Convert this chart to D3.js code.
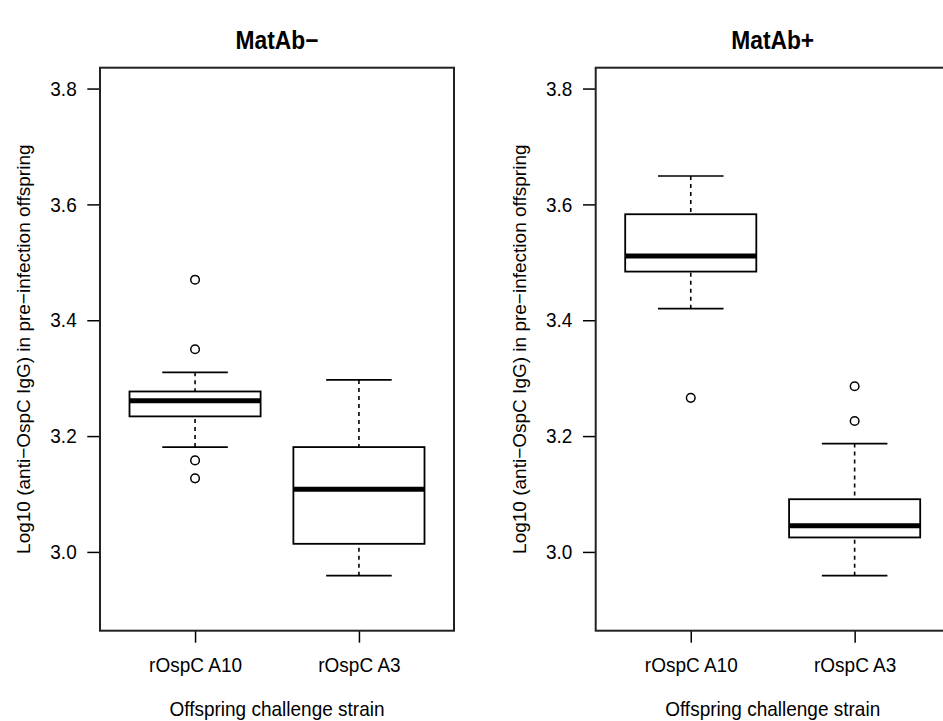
<!DOCTYPE html>
<html>
<head>
<meta charset="utf-8">
<script src="https://cdn.jsdelivr.net/npm/d3@7"></script>
<style>
  body { margin: 0; background: #fff; }
  text { font-family: "Liberation Sans", Arial, sans-serif; fill: #000; }
</style>
</head>
<body>
<svg id="chart"></svg>
<script>
let width = 943
let height = 721

// panel titles and categories
let panels = ['MatAb\u2212', 'MatAb+']
let strains = ['rOspC A10', 'rOspC A3']
let yTicks = [3.0, 3.2, 3.4, 3.6, 3.8]

// box stats: [lower whisker, q1, median, q3, upper whisker]
let statsMinus = [
    [3.181, 3.234, 3.261, 3.277, 3.310],
    [2.959, 3.014, 3.108, 3.181, 3.297]
]
let statsPlus = [
    [3.420, 3.484, 3.511, 3.583, 3.649],
    [2.959, 3.025, 3.045, 3.091, 3.187]
]
let outliersMinus = [
    [3.470, 3.350, 3.158, 3.127],
    []
]
let outliersPlus = [
    [3.266],
    [3.286, 3.226]
]

let panelLeft = [100, 595.7]
let panelWidth = 354
let plotTop = 67.7
let plotBottom = 630.7
let stretch = 1.1

let svg = d3.select('#chart')
    .attr('width', width)
    .attr('height', height)

let yScale = d3.scaleLinear()
    .domain([2.864, 3.836])
    .range([plotBottom, plotTop])

let xScale = d3.scaleLinear()
    .domain([0.42, 2.58])
    .range([0, panelWidth])

// taller glyphs like the original render
let tall = (sel, cy) => {
    sel.attr('transform', 'translate(0,' + cy + ') scale(1,' + stretch + ') translate(0,' + (-cy) + ')')
}

let drawPanel = (p, stats, outliers) => {
    let g = svg.append('g')
        .attr('transform', 'translate(' + panelLeft[p] + ',0)')

    let boxes = g.selectAll('.box')
        .data(stats)
        .enter()
        .append('g')
        .attr('class', 'box')

    let half = xScale(1.4) - xScale(1)
    let cap = xScale(1.2) - xScale(1)

    // dashed whiskers
    boxes.append('line')
        .attr('x1', (d, i) => xScale(i + 1))
        .attr('x2', (d, i) => xScale(i + 1))
        .attr('y1', (d) => yScale(d[0]))
        .attr('y2', (d) => yScale(d[1]))
        .attr('stroke', '#000')
        .attr('stroke-width', 1.6)
        .attr('stroke-dasharray', '4,4')
    boxes.append('line')
        .attr('x1', (d, i) => xScale(i + 1))
        .attr('x2', (d, i) => xScale(i + 1))
        .attr('y1', (d) => yScale(d[4]))
        .attr('y2', (d) => yScale(d[3]))
        .attr('stroke', '#000')
        .attr('stroke-width', 1.6)
        .attr('stroke-dasharray', '4,4')

    // caps
    ;[0, 4].forEach((k) => {
        boxes.append('line')
            .attr('x1', (d, i) => xScale(i + 1) - cap)
            .attr('x2', (d, i) => xScale(i + 1) + cap)
            .attr('y1', (d) => yScale(d[k]))
            .attr('y2', (d) => yScale(d[k]))
            .attr('stroke', '#000')
            .attr('stroke-width', 1.6)
    })

    boxes.append('rect')
        .attr('x', (d, i) => xScale(i + 1) - half)
        .attr('width', half * 2)
        .attr('y', (d) => yScale(d[3]))
        .attr('height', (d) => yScale(d[1]) - yScale(d[3]))
        .attr('fill', 'none')
        .attr('stroke', '#000')
        .attr('stroke-width', 1.8)

    boxes.append('line')
        .attr('x1', (d, i) => xScale(i + 1) - half)
        .attr('x2', (d, i) => xScale(i + 1) + half)
        .attr('y1', (d) => yScale(d[2]))
        .attr('y2', (d) => yScale(d[2]))
        .attr('stroke', '#000')
        .attr('stroke-width', 5)

    outliers.forEach((vals, i) => {
        g.selectAll('.out' + i)
            .data(vals)
            .enter()
            .append('circle')
            .attr('cx', xScale(i + 1))
            .attr('cy', (d) => yScale(d))
            .attr('r', 4.3)
            .attr('fill', 'none')
            .attr('stroke', '#000')
            .attr('stroke-width', 1.5)
    })

    // axes
    let yAxis = d3.axisLeft(yScale)
        .tickValues(yTicks)
        .tickFormat(d3.format('.1f'))
        .tickSize(12.7)
        .tickPadding(10.6)
    let ya = g.append('g').call(yAxis)
    ya.select('.domain').remove()
    ya.selectAll('line').attr('stroke', '#000').attr('stroke-width', 1.5)
    ya.selectAll('text').style('font-size', '19px').call(tall, 0)

    let xAxis = d3.axisBottom(xScale)
        .tickValues([1, 2])
        .tickFormat((d) => strains[d - 1])
        .tickSize(12)
        .tickPadding(15.3)
    let xa = g.append('g')
        .attr('transform', 'translate(0,' + plotBottom + ')')
        .call(xAxis)
    xa.select('.domain').remove()
    xa.selectAll('line').attr('stroke', '#000').attr('stroke-width', 1.5)
    xa.selectAll('text').style('font-size', '19px').call(tall, 34)

    // frame
    g.append('rect')
        .attr('x', 0)
        .attr('y', plotTop)
        .attr('width', panelWidth)
        .attr('height', plotBottom - plotTop)
        .attr('fill', 'none')
        .attr('stroke', '#222')
        .attr('stroke-width', 2)

    g.append('text')
        .attr('x', panelWidth / 2)
        .attr('y', 48)
        .attr('text-anchor', 'middle')
        .style('font-size', '22.8px')
        .style('font-weight', 'bold')
        .text(panels[p])
        .call(tall, 40)

    g.append('text')
        .attr('x', panelWidth / 2)
        .attr('y', 715)
        .attr('text-anchor', 'middle')
        .style('font-size', '19px')
        .text('Offspring challenge strain')
        .call(tall, 708)

    g.append('text')
        .attr('transform', 'translate(-76.4,' + (plotTop + plotBottom) / 2 + ') rotate(-90)')
        .attr('text-anchor', 'middle')
        .attr('dy', '0.35em')
        .style('font-size', '19px')
        .text('Log10 (anti\u2212OspC IgG) in pre\u2212infection offspring')
}

drawPanel(0, statsMinus, outliersMinus)
drawPanel(1, statsPlus, outliersPlus)
</script>
</body>
</html>
